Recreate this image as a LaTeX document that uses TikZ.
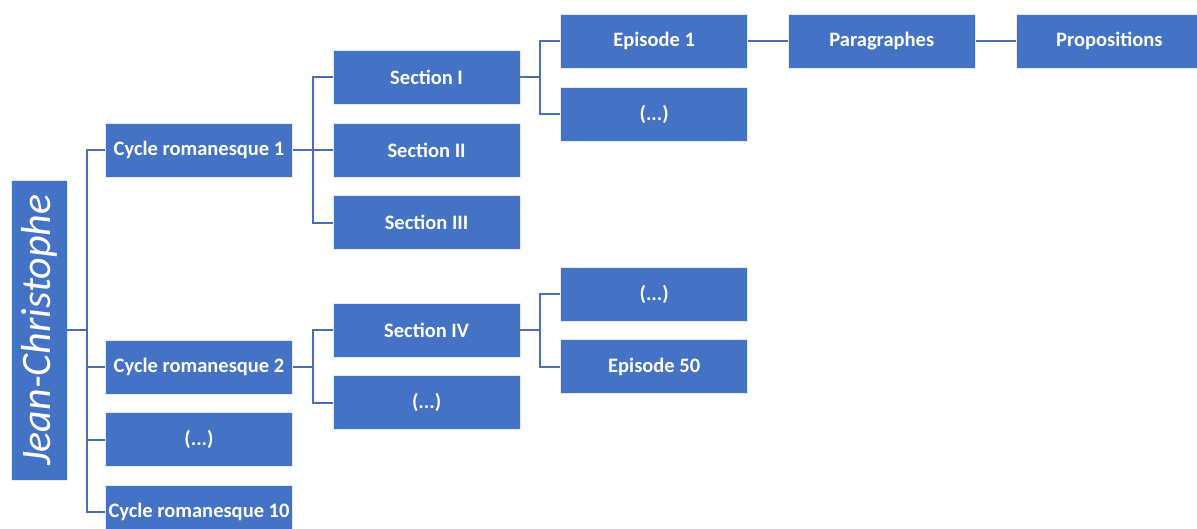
\documentclass[tikz,border=0pt]{standalone}
\usepackage{fontspec}
\setmainfont{Carlito}
\usetikzlibrary{positioning}
\definecolor{box-blue}{HTML}{4472C4}
\definecolor{line-blue}{HTML}{4A6EB2}
\tikzset{
	box/.style={rectangle, fill=box-blue, draw=white!85!box-blue, line width=0.6pt, text=white, minimum width=187pt, minimum height=54pt, inner sep=0pt, font=\fontsize{20.5}{24}\selectfont\bfseries},
	elbow/.style={-, line-blue, line width=2pt, to path={-- ++(20pt,0) |- (\tikztotarget)}}
}
\begin{document}
\begin{tikzpicture}[x=1pt, y=1pt, node distance=18pt and 40pt]
						\useasboundingbox (0,0) rectangle (1197,-529);
						\node[box, minimum width=300pt, minimum height=56pt, rotate=90, font=\fontsize{42}{46}\selectfont\itshape] (jc) at (39,-330) {Jean-Christophe};
						\node[box] (c1) at (199,-150) {Cycle romanesque 1};
						\node[box] (c2) at (199,-367) {Cycle romanesque 2};
						\node[box, below =of c2] (cdots) {(...)};
						\node[box, below =of cdots] (c10) {Cycle romanesque 10};
						\node[box, right =of c1] (s2) {Section II};
						\node[box, above =of s2] (s1) {Section I};
						\node[box, below =of s2] (s3) {Section III};
						\node[box, right =of c2, yshift=37pt] (s4) {Section IV};
						\node[box, below =of s4] (sdots) {(...)};
						\node[box, right =of s1, yshift=36pt] (e1) {Episode 1};
						\node[box, below =of e1] (edots) {(...)};
						\node[box, right =of s4, yshift=36pt] (edots2) {(...)};
						\node[box, below =of edots2] (e50) {Episode 50};
						\node[box, right =of e1] (par) {Paragraphes};
						\node[box, right =of par] (prop) {Propositions};
						\draw
						(jc.south) edge[elbow] (c1.west)
						(jc.south) edge[elbow] (c2.west)
						(jc.south) edge[elbow] (cdots.west)
						(jc.south) edge[elbow] (c10.west)
						(c1.east) edge[elbow] (s1.west)
						(c1.east) edge[elbow] (s2.west)
						(c1.east) edge[elbow] (s3.west)
						(c2.east) edge[elbow] (s4.west)
						(c2.east) edge[elbow] (sdots.west)
						(s1.east) edge[elbow] (e1.west)
						(s1.east) edge[elbow] (edots.west)
						(s4.east) edge[elbow] (edots2.west)
						(s4.east) edge[elbow] (e50.west)
						(e1) edge[-, line-blue, line width=2pt] (par)
						(par) edge[-, line-blue, line width=2pt] (prop);
					\end{tikzpicture}
\end{document}
